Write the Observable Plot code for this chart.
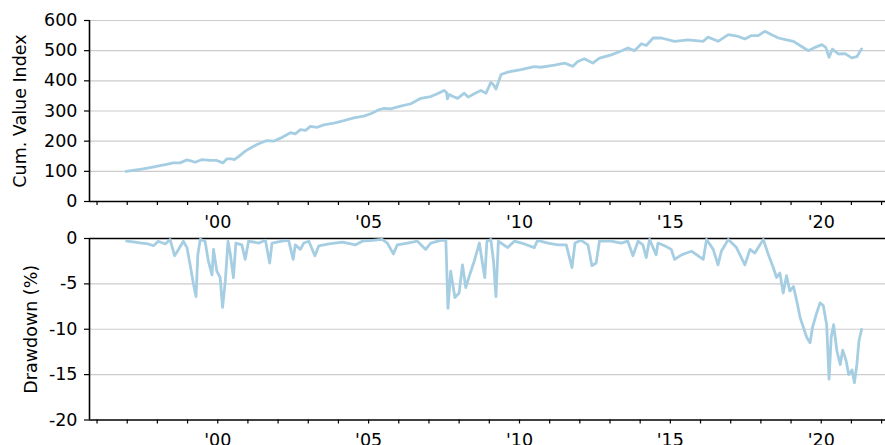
<!DOCTYPE html>
<html>
<head>
<meta charset="utf-8">
<script src="https://cdn.jsdelivr.net/npm/d3@7"></script>
<script src="https://cdn.jsdelivr.net/npm/@observablehq/plot@0.6"></script>
<style>
  html, body { margin: 0; padding: 0; background: #fff; }
  #chart svg { display: block; overflow: visible; }
</style>
</head>
<body>
<div id="chart"></div>
<script>
// Cumulative value index
const cumYears = [1996.96,1997.25,1997.53,1997.8,1998.09,1998.3,1998.53,1998.75,1998.98,1999.1,1999.25,1999.48,1999.75,1999.97,2000.17,2000.3,2000.45,2000.55,2000.69,2000.91,2001.1,2001.3,2001.63,2001.85,2002.08,2002.41,2002.57,2002.74,2002.91,2003.07,2003.3,2003.51,2003.85,2004.18,2004.51,2004.84,2005.07,2005.29,2005.51,2005.73,2006.06,2006.4,2006.73,2007.06,2007.28,2007.5,2007.58,2007.61,2007.67,2007.8,2007.95,2008.17,2008.3,2008.5,2008.72,2008.89,2009.05,2009.15,2009.22,2009.39,2009.61,2010.05,2010.49,2010.71,2011.16,2011.49,2011.77,2011.93,2012.15,2012.43,2012.65,2013.04,2013.37,2013.59,2013.81,2014.04,2014.2,2014.43,2014.7,2015.14,2015.59,2016.09,2016.25,2016.58,2016.92,2017.25,2017.47,2017.69,2017.91,2018.13,2018.36,2018.58,2018.85,2019.08,2019.35,2019.57,2019.8,2020.02,2020.15,2020.26,2020.37,2020.57,2020.79,2021.01,2021.18,2021.34];
const cumValues = [100,104,108,113,119,123,128,128,138,135,130,139,136,136,128,141,141,139,149,167,178,189,202,200,210,228,224,238,236,249,246,254,260,268,277,283,291,302,309,307,316,324,342,348,357,368,362,340,355,348,342,359,346,357,368,359,395,385,373,421,429,437,447,445,452,459,448,464,473,459,475,486,499,509,500,523,517,542,542,531,536,531,545,531,553,547,539,550,550,564,553,542,536,531,514,500,511,520,511,478,505,489,490,476,480,506];

// Drawdown (%)
const ddYears = [1996.98,1997.26,1997.48,1997.7,1997.87,1998.03,1998.26,1998.42,1998.57,1998.7,1998.86,1998.98,1999.09,1999.2,1999.28,1999.34,1999.42,1999.58,1999.69,1999.81,1999.86,1999.97,2000.08,2000.16,2000.25,2000.34,2000.42,2000.52,2000.6,2000.8,2000.91,2001.02,2001.36,2001.58,2001.72,2001.8,2002.13,2002.35,2002.5,2002.57,2002.74,2002.85,2003.02,2003.22,2003.35,2003.68,2004.13,2004.57,2004.79,2005.12,2005.45,2005.62,2005.82,2005.95,2006.29,2006.62,2006.89,2007.06,2007.39,2007.56,2007.63,2007.72,2007.86,2008.0,2008.11,2008.22,2008.33,2008.5,2008.67,2008.78,2008.85,2008.92,2009.05,2009.14,2009.22,2009.3,2009.61,2009.83,2010.16,2010.49,2010.6,2010.94,2011.27,2011.55,2011.74,2011.84,2012.04,2012.27,2012.4,2012.54,2012.65,2013.04,2013.37,2013.59,2013.76,2013.93,2014.09,2014.2,2014.31,2014.53,2014.59,2014.81,2015.03,2015.14,2015.37,2015.7,2016.09,2016.2,2016.42,2016.58,2016.69,2016.92,2017.19,2017.47,2017.64,2017.8,2018.08,2018.25,2018.41,2018.52,2018.63,2018.74,2018.85,2018.96,2019.08,2019.19,2019.3,2019.41,2019.52,2019.63,2019.71,2019.85,2019.96,2020.07,2020.18,2020.26,2020.33,2020.41,2020.52,2020.63,2020.71,2020.82,2020.91,2021.02,2021.1,2021.18,2021.25,2021.34];
const ddValues = [-0.3,-0.4,-0.5,-0.6,-0.8,-0.3,-0.6,-0.1,-1.9,-1.2,-0.3,-1.0,-3.0,-5.1,-6.4,-1.8,-0.1,-0.3,-2.5,-4.0,-1.2,-3.6,-4.3,-7.6,-4.7,-0.3,-1.8,-4.3,-0.5,-0.7,-2.3,-0.3,-0.5,-0.2,-2.7,-0.5,-0.3,-0.2,-2.3,-0.7,-1.2,-0.5,-0.3,-1.9,-0.8,-0.6,-0.4,-0.7,-0.3,-0.2,-0.1,-0.5,-1.7,-0.7,-0.5,-0.3,-1.2,-0.5,-0.2,-0.2,-7.7,-3.6,-6.5,-6.0,-2.9,-5.4,-4.2,-2.5,-0.5,-2.9,-4.3,-0.3,-0.1,-2.5,-6.4,-0.3,-1.0,-0.3,-0.6,-1.0,-0.2,-0.5,-0.7,-0.7,-3.2,-0.5,-0.2,-0.7,-3.0,-2.7,-0.3,-0.3,-0.5,-0.3,-1.9,-0.3,-0.7,-2.1,-0.1,-1.8,-0.5,-0.8,-1.2,-2.3,-1.8,-1.4,-2.3,-0.1,-1.2,-2.9,-1.4,-0.1,-1.0,-2.9,-1.2,-1.6,-0.1,-1.8,-3.2,-4.3,-3.8,-6.0,-4.1,-5.8,-5.3,-6.9,-8.7,-9.8,-10.9,-11.5,-9.8,-8.2,-7.1,-7.4,-9.5,-15.5,-10.9,-9.5,-12.4,-13.9,-12.3,-13.4,-15.0,-14.5,-15.9,-13.9,-11.3,-10.0];

// Axis ticks
const xTickYears = d3.range(1996, 2023);
const xLabelYears = [2000, 2005, 2010, 2015, 2020];
const cumTicks = [0, 100, 200, 300, 400, 500, 600];
const ddTicks = [0, -5, -10, -15, -20];

const cumData = cumYears.map((t, i) => ({t, v: cumValues[i]}));
const ddData = ddYears.map((t, i) => ({t, v: ddValues[i]}));

const xDomain = [1995.75, 2022.13];
const FONT = "DejaVu Sans";
const FS = 17.5;
const LINE = "#a6cee3";
const GRID = "#cccccc";
const fmtX = d => xLabelYears.includes(d) ? "'" + String(d).slice(2) : "";

function xAxisMarks() {
  return Plot.axisX({
    ticks: xTickYears, tickFormat: fmtX, tickSize: 4, tickPadding: 10,
    fontSize: FS, strokeWidth: 1.2, label: null
  });
}

const svgStyle = {fontFamily: FONT, fontSize: FS + "px", color: "#000", background: "transparent", overflow: "visible"};

const topChart = Plot.plot({
  width: 885, height: 236,
  marginLeft: 89, marginRight: 0, marginTop: 20, marginBottom: 35,
  style: svgStyle,
  x: {domain: xDomain},
  y: {domain: [0, 600]},
  marks: [
    Plot.ruleY(cumTicks.filter(d => d !== 0), {stroke: GRID, strokeWidth: 1.2}),
    Plot.ruleY([0], {stroke: "#000", strokeWidth: 1.6}),
    Plot.ruleX([xDomain[0]], {stroke: "#000", strokeWidth: 1.6}),
    Plot.line(cumData, {x: "t", y: "v", stroke: LINE, strokeWidth: 2.8}),
    Plot.axisY({ticks: cumTicks, tickSize: 5, tickPadding: 7, fontSize: FS, strokeWidth: 1.2, label: null}),
    xAxisMarks(),
    Plot.text(["Cum. Value Index"], {frameAnchor: "left", textAnchor: "middle", dx: -69, rotate: -90, fontSize: FS, fill: "#000"})
  ]
});

const bottomChart = Plot.plot({
  width: 885, height: 209,
  marginLeft: 89, marginRight: 0, marginTop: 2, marginBottom: 25.5,
  style: svgStyle,
  x: {domain: xDomain},
  y: {domain: [-20, 0]},
  marks: [
    Plot.ruleY([-5, -10, -15], {stroke: GRID, strokeWidth: 1.2}),
    Plot.ruleY([0, -20], {stroke: "#000", strokeWidth: 1.6}),
    Plot.ruleX([xDomain[0]], {stroke: "#000", strokeWidth: 1.6}),
    Plot.line(ddData, {x: "t", y: "v", stroke: LINE, strokeWidth: 2.8}),
    Plot.axisY({ticks: ddTicks, tickFormat: d => String(d), tickSize: 5, tickPadding: 7, fontSize: FS, strokeWidth: 1.2, label: null}),
    xAxisMarks(),
    Plot.text(["Drawdown (%)"], {frameAnchor: "left", textAnchor: "middle", dx: -58, rotate: -90, fontSize: FS, fill: "#000"})
  ]
});

const el = document.getElementById("chart");
el.appendChild(topChart);
el.appendChild(bottomChart);
</script>
</body>
</html>
